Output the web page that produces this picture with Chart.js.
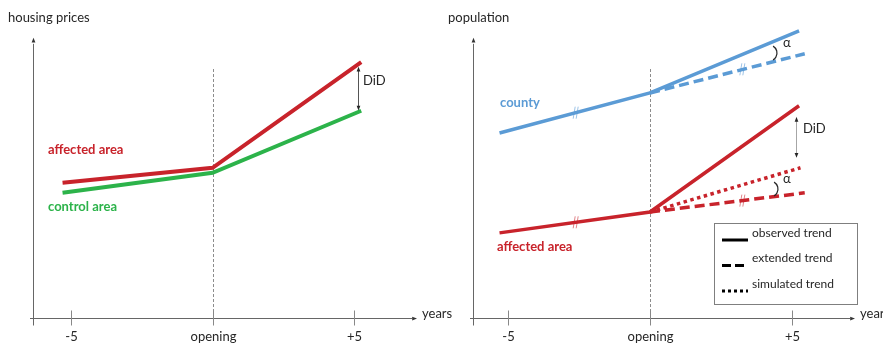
<!DOCTYPE html>
<html>
<head>
<meta charset="utf-8">
<script src="https://cdn.jsdelivr.net/npm/chart.js@4.4.0/dist/chart.umd.min.js"></script>
<style>
  html, body { margin: 0; padding: 0; background: #fff; }
  #wrap { position: relative; width: 883px; height: 343px; }
  .panel { position: absolute; top: 0; height: 343px; }
</style>
</head>
<body>
<div id="wrap">
  <div class="panel" style="left:0;width:460px"><canvas id="housingChart"></canvas></div>
  <div class="panel" style="left:440px;width:443px"><canvas id="populationChart"></canvas></div>
</div>
<script>
// x axis: years relative to opening
const tickValues = [-5, 0, 5]
const tickLabels = ['-5', 'opening', '+5']
const trendYears = [-5.3, 0, 5.25]

// housing prices (arbitrary units)
const affectedPrices = [48.6, 54, 92]
const controlPrices = [45, 52.2, 74.5]

// population (arbitrary units)
const countyObserved = [66.5, 80.9, 103.2]
const extendedYears = [0, 5.45]
const countyExtended = [80.9, 95]
const affectedObserved = [30.6, 38.1, 76.3]
const affectedExtended = [38.1, 45]
const simulatedYears = [0, 5.3]
const affectedSimulated = [38.1, 54]

const legendLabels = ['observed trend', 'extended trend', 'simulated trend']

const RED = '#c8232b'
const GREEN = '#2cb34a'
const BLUE = '#5b9bd5'
const FONT = 'Lato, "Open Sans", sans-serif'

const pts = (xs, ys) => xs.map((x, i) => ({ x: x, y: ys[i] }))

function trend (label, xs, ys, color, width, dash) {
  return {
    label: label,
    data: pts(xs, ys),
    borderColor: color,
    borderWidth: width,
    borderDash: dash || [],
    pointRadius: 0,
    tension: 0,
    fill: false
  }
}

function tri (ctx, x, y, dir, s) {
  s = s || 4
  ctx.beginPath()
  if (dir === 'right') { ctx.moveTo(x, y); ctx.lineTo(x - s * 1.6, y - s / 1.6); ctx.lineTo(x - s * 1.6, y + s / 1.6) }
  if (dir === 'up') { ctx.moveTo(x, y); ctx.lineTo(x - s / 1.6, y + s * 1.6); ctx.lineTo(x + s / 1.6, y + s * 1.6) }
  if (dir === 'down') { ctx.moveTo(x, y); ctx.lineTo(x - s / 1.6, y - s * 1.6); ctx.lineTo(x + s / 1.6, y - s * 1.6) }
  ctx.closePath()
  ctx.fill()
}

function text (ctx, str, x, y, color, font, align) {
  ctx.fillStyle = color
  ctx.font = font
  ctx.textAlign = align || 'left'
  ctx.textBaseline = 'middle'
  ctx.fillText(str, x, y)
}

// DiD double arrow between two values at year xv
function didArrow (chart, xv, yFrom, yTo, lineColor) {
  const { ctx, scales: { x, y } } = chart
  const px = Math.round(x.getPixelForValue(xv)) + 0.5
  const a = y.getPixelForValue(yFrom)
  const b = y.getPixelForValue(yTo)
  ctx.strokeStyle = lineColor
  ctx.lineWidth = 1
  ctx.beginPath(); ctx.moveTo(px, a + 4); ctx.lineTo(px, b - 4); ctx.stroke()
  ctx.fillStyle = '#262626'
  tri(ctx, px, a, 'up', 3)
  tri(ctx, px, b, 'down', 3)
}

// small "//" break mark on a line
function breakMark (chart, xv, yv, color) {
  const { ctx, scales: { x, y } } = chart
  const px = x.getPixelForValue(xv)
  const py = y.getPixelForValue(yv)
  ctx.strokeStyle = color
  ctx.lineWidth = 1
  ctx.beginPath()
  ctx.moveTo(px - 3, py + 6); ctx.lineTo(px - 1, py - 6)
  ctx.moveTo(px, py + 6); ctx.lineTo(px + 2, py - 6)
  ctx.stroke()
}

function alphaArc (ctx, cx, cy) {
  ctx.strokeStyle = '#262626'
  ctx.lineWidth = 1.2
  ctx.beginPath()
  ctx.arc(cx, cy, 8, -Math.PI * 0.33, Math.PI * 0.33)
  ctx.stroke()
}

function axesPlugin (title) {
  return {
    id: 'axes',
    beforeDatasetsDraw (chart) {
      const { ctx, chartArea: area, scales: { x, y } } = chart
      const y0 = Math.round(y.getPixelForValue(0)) + 0.5
      const yTop = y.getPixelForValue(100)
      const xOpen = Math.round(x.getPixelForValue(0)) + 0.5
      const xAxis = area.left + 3.5
      ctx.save()
      // opening marker
      ctx.strokeStyle = '#8c8c8c'
      ctx.lineWidth = 1
      ctx.setLineDash([3, 2])
      ctx.beginPath(); ctx.moveTo(xOpen, y.getPixelForValue(89.5)); ctx.lineTo(xOpen, y0); ctx.stroke()
      ctx.setLineDash([])
      // axes
      ctx.strokeStyle = '#666'
      ctx.beginPath()
      ctx.moveTo(area.left, y0); ctx.lineTo(area.right - 3, y0)
      ctx.moveTo(xAxis, y0 + 7); ctx.lineTo(xAxis, yTop + 4)
      ctx.stroke()
      ctx.fillStyle = '#333'
      tri(ctx, area.right + 2, y0, 'right', 3)
      tri(ctx, xAxis, yTop - 2, 'up', 3)
      // ticks + labels
      ctx.strokeStyle = '#888'
      tickValues.forEach((v, i) => {
        const px = Math.round(x.getPixelForValue(v)) + 0.5
        ctx.beginPath(); ctx.moveTo(px, y0 - 8); ctx.lineTo(px, y0 + 7); ctx.stroke()
        text(ctx, tickLabels[i], px, y0 + 18, '#262626', '13px ' + FONT, 'center')
      })
      text(ctx, 'years', area.right + 7, y0 - 5, '#262626', '13px ' + FONT)
      text(ctx, title, 8, 18, '#262626', '13px ' + FONT)
      ctx.restore()
    }
  }
}

function baseOptions (xMin, xMax, padRight) {
  return {
    responsive: true,
    maintainAspectRatio: false,
    animation: false,
    layout: { padding: { left: 30, right: padRight, top: 12, bottom: 25 } },
    scales: {
      x: { type: 'linear', min: xMin, max: xMax, display: false },
      y: { min: 0, max: 110, display: false }
    },
    plugins: { legend: { display: false }, tooltip: { enabled: false } }
  }
}

// Housing prices
const housingNotes = {
  id: 'housingNotes',
  afterDatasetsDraw (chart) {
    const { ctx } = chart
    ctx.save()
    text(ctx, 'affected area', 48, 150, RED, 'bold 13px ' + FONT)
    text(ctx, 'control area', 48, 207, GREEN, 'bold 13px ' + FONT)
    didArrow(chart, 5.12, 90.3, 74.6, '#555')
    text(ctx, 'DiD', 363, 81, '#262626', '13px ' + FONT)
    ctx.restore()
  }
}

new Chart(document.getElementById('housingChart'), {
  type: 'line',
  plugins: [axesPlugin('housing prices'), housingNotes],
  data: {
    datasets: [
      trend('affected area', trendYears, affectedPrices, RED, 4),
      trend('control area', trendYears, controlPrices, GREEN, 4)
    ]
  },
  options: baseOptions(-6.45, 7.15, 45)
})

// Population
const populationNotes = {
  id: 'populationNotes',
  afterDatasetsDraw (chart) {
    const { ctx } = chart
    ctx.save()
    text(ctx, 'county', 60, 103, BLUE, 'bold 13px ' + FONT)
    text(ctx, 'affected area', 57, 247, RED, 'bold 13px ' + FONT)

    breakMark(chart, -2.6, 73.8, 'rgba(91,155,213,0.6)')
    breakMark(chart, 3.27, 89.4, 'rgba(91,155,213,0.6)')
    breakMark(chart, -2.6, 34.4, 'rgba(200,35,43,0.55)')
    breakMark(chart, 3.27, 42.2, 'rgba(200,35,43,0.55)')

    alphaArc(ctx, 329, 53)
    text(ctx, 'α', 343, 43, '#262626', '13px ' + FONT)
    alphaArc(ctx, 330, 189)
    text(ctx, 'α', 343, 179, '#262626', '13px ' + FONT)

    didArrow(chart, 5.14, 72.3, 57.6, '#a6a6a6')
    text(ctx, 'DiD', 363, 129, '#262626', '13px ' + FONT)

    // legend box
    ctx.strokeStyle = '#7f7f7f'
    ctx.lineWidth = 1
    ctx.strokeRect(274.5, 223.5, 143, 81)
    const dashes = [[], [9, 4], [3, 3]]
    legendLabels.forEach((lbl, i) => {
      const ly = 240 + i * 25.5
      ctx.strokeStyle = '#000'
      ctx.lineWidth = 3
      ctx.setLineDash(dashes[i])
      ctx.beginPath(); ctx.moveTo(282, ly); ctx.lineTo(308, ly); ctx.stroke()
      ctx.setLineDash([])
      text(ctx, lbl, 312, ly - 7, '#262626', '12px ' + FONT)
    })
    ctx.restore()
  }
}

new Chart(document.getElementById('populationChart'), {
  type: 'line',
  plugins: [axesPlugin('population'), populationNotes],
  data: {
    datasets: [
      trend('county', trendYears, countyObserved, BLUE, 3.5),
      trend('county extended', extendedYears, countyExtended, BLUE, 3.5, [10, 5]),
      trend('affected area', trendYears, affectedObserved, RED, 3.5),
      trend('affected extended', extendedYears, affectedExtended, RED, 3.5, [10, 5]),
      trend('affected simulated', simulatedYears, affectedSimulated, RED, 3.5, [3.5, 3.5])
    ]
  },
  options: baseOptions(-6.34, 7.15, 30)
})
</script>
</body>
</html>
